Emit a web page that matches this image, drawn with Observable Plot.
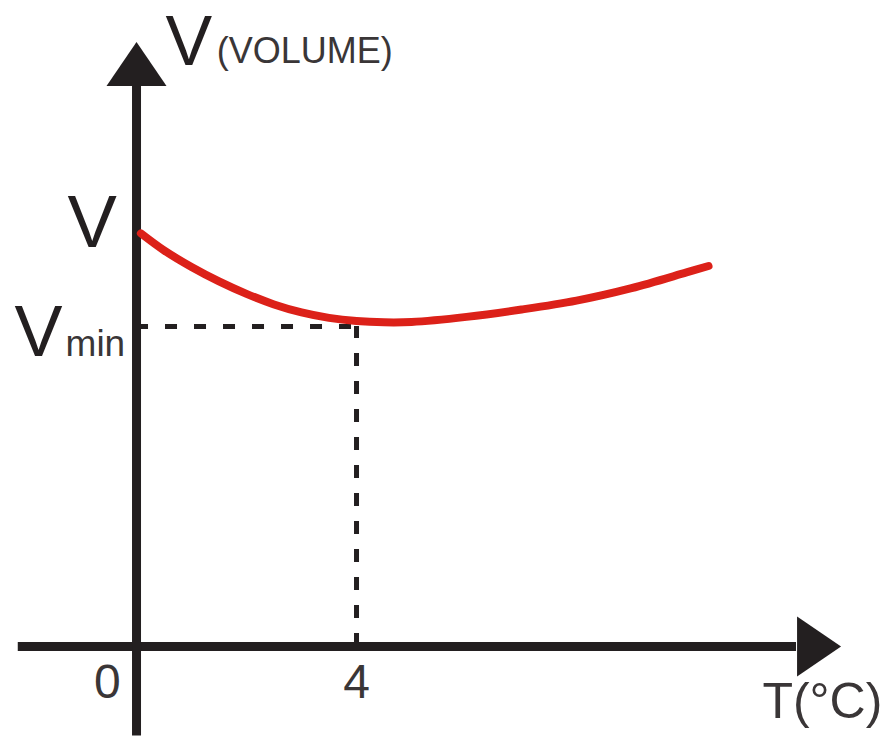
<!DOCTYPE html>
<html>
<head>
<meta charset="utf-8">
<script src="https://cdn.jsdelivr.net/npm/d3@7"></script>
<script src="https://cdn.jsdelivr.net/npm/@observablehq/plot@0.6"></script>
<style>
  html, body { margin: 0; padding: 0; background: #fff; }
  svg { display: block; }
</style>
</head>
<body>
<div id="chart"></div>
<script>
// Temperature (°C) and volume (arbitrary units)
const temperature = [0.08, 0.5, 1, 1.5, 2, 2.5, 3, 3.5, 4, 4.5, 5, 6, 7, 8, 9, 10, 10.4];
const volume = [12.91, 12.38, 11.86, 11.41, 11.02, 10.69, 10.44, 10.27, 10.17, 10.13, 10.14, 10.30, 10.53, 10.81, 11.20, 11.69, 11.89];
const tMin = 4;
const vMin = 10;
const xTickLabels = [{t: -0.53, label: "0"}, {t: 4, label: "4"}];

const curve = temperature.map((t, i) => ({t, v: volume[i]}));

const ink = "#231f20";
const grey = "#3a3637";
const red = "#dc2119";
const font = "Liberation Sans, Arial, sans-serif";

const arrowHead = {
  draw(ctx) {
    ctx.moveTo(0, -22);
    ctx.lineTo(30, 22);
    ctx.lineTo(-30, 22);
    ctx.closePath();
  }
};

const chart = Plot.plot({
  width: 881,
  height: 738,
  margin: 0,
  x: {domain: [-2.473, 13.545], axis: null},
  y: {domain: [-2.875, 20.1875], axis: null},
  marks: [
    // dashed guides to the minimum
    Plot.ruleY([vMin], {x1: 0, x2: tMin, stroke: ink, strokeWidth: 5, strokeDasharray: "12,17"}),
    Plot.ruleX([tMin], {y1: 0, y2: vMin, stroke: ink, strokeWidth: 5, strokeDasharray: "13,15"}),
    // axes
    Plot.ruleY([0], {x1: -2.15, x2: 12.0, stroke: ink, strokeWidth: 9}),
    Plot.ruleX([0], {y1: -2.8, y2: 17.6, stroke: ink, strokeWidth: 9}),
    Plot.dot([{t: 0, v: 18.2}], {x: "t", y: "v", symbol: arrowHead, fill: ink, stroke: "none", r: 30}),
    Plot.dot([{t: 12.41, v: 0}], {x: "t", y: "v", symbol: arrowHead, fill: ink, stroke: "none", r: 30, rotate: 90}),
    // curve
    Plot.line(curve, {x: "t", y: "v", stroke: red, strokeWidth: 8, curve: "catmull-rom"}),
    // labels
    Plot.text(["V"], {x: 0.527, y: 18.16, text: d => d, textAnchor: "start", lineAnchor: "bottom", fontSize: 70, fontFamily: font, fill: ink}),
    Plot.text(["(VOLUME)"], {x: 1.46, y: 18.22, text: d => d, textAnchor: "start", lineAnchor: "bottom", fontSize: 36, fontFamily: font, fill: grey}),
    Plot.text(["V"], {x: -1.255, y: 12.47, text: d => d, textAnchor: "start", lineAnchor: "bottom", fontSize: 74, fontFamily: font, fill: ink}),
    Plot.text(["V"], {x: -2.218, y: 9.09, text: d => d, textAnchor: "start", lineAnchor: "bottom", fontSize: 72, fontFamily: font, fill: ink}),
    Plot.text(["min"], {x: -1.29, y: 9.09, text: d => d, textAnchor: "start", lineAnchor: "bottom", fontSize: 37, fontFamily: font, fill: grey}),
    Plot.text(xTickLabels, {x: "t", y: -1.594, text: "label", textAnchor: "middle", lineAnchor: "bottom", fontSize: 48, fontFamily: font, fill: grey}),
    Plot.text(["T(°C)"], {x: 11.38, y: -2.22, text: d => d, textAnchor: "start", lineAnchor: "bottom", fontSize: 50, fontFamily: font, fill: grey})
  ]
});
document.getElementById("chart").appendChild(chart);
</script>
</body>
</html>
